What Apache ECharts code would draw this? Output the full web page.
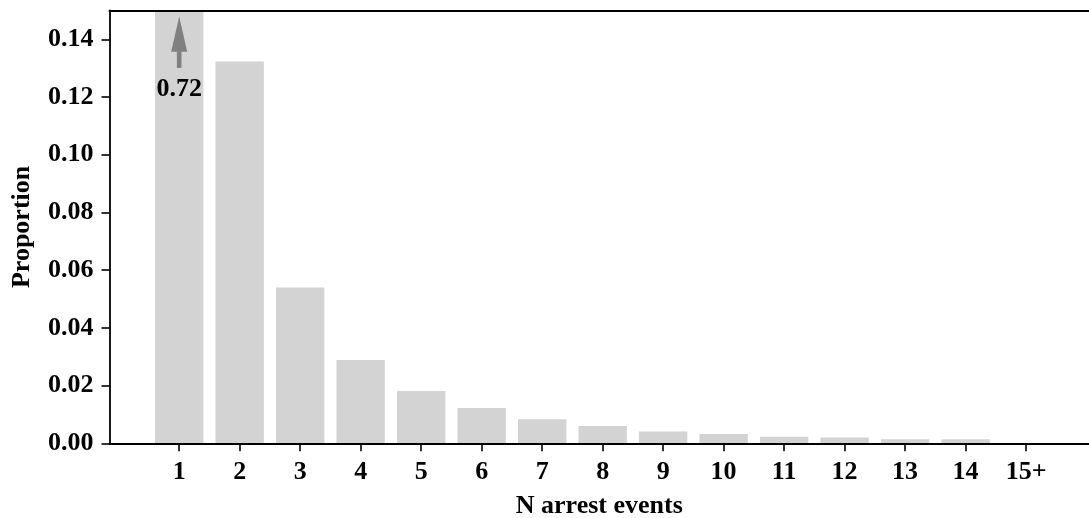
<!DOCTYPE html>
<html><head><meta charset="utf-8">
<script src="https://cdn.jsdelivr.net/npm/echarts@6/dist/echarts.min.js"></script>
<style>html,body{margin:0;padding:0;background:#fff}#c{width:1089px;height:518px}</style>
</head><body><div id="c"></div>
<script>
// ---- data ----
const categories = [1, 2, 3, 4, 5, 6, 7, 8, 9, 10, 11, 12, 13, 14, 15];
const xTickLabels = ['1', '2', '3', '4', '5', '6', '7', '8', '9', '10', '11', '12', '13', '14', '15+'];
const proportions = [0.72, 0.1323, 0.0540, 0.0289, 0.0181, 0.0122, 0.0083, 0.0060, 0.0041, 0.0032, 0.0023, 0.0020, 0.0014, 0.0014, 0.0001];
const yTicks = [0, 0.02, 0.04, 0.06, 0.08, 0.10, 0.12, 0.14];
const yTickLabels = ['0.00', '0.02', '0.04', '0.06', '0.08', '0.10', '0.12', '0.14'];
const xTitle = 'N arrest events';
const yTitle = 'Proportion';
// annotation for the clipped first bar (data coordinates)
const arrowX = 1;
const arrowTip = 0.1479, arrowHeadBase = 0.1357, arrowTail = 0.1301;
const arrowLabelY = 0.1228;
const arrowLabel = proportions[0].toFixed(2);

const FONT = "'Liberation Serif', 'Times New Roman', serif";
const chart = echarts.init(document.getElementById('c'), null, {renderer: 'canvas'});
const textStyle = {fontFamily: FONT, fontWeight: 'bold', fontSize: 26, color: '#000'};

const option = {
  animation: false,
  backgroundColor: '#fff',
  grid: {left: 109.5, right: 0, top: 10.5, bottom: 74.7, containLabel: false, outerBoundsMode: 'none'},
  xAxis: [{
    type: 'value', min: -0.152, max: 16.04, z: 5,
    axisLine: {show: true, lineStyle: {color: '#000', width: 1.8}},
    axisTick: {show: true, length: 8, lineStyle: {color: '#000', width: 1.6}, customValues: categories},
    axisLabel: Object.assign({margin: 16, customValues: categories,
      formatter: v => xTickLabels[categories.indexOf(Math.round(v))]}, textStyle),
    splitLine: {show: false},
    name: xTitle, nameLocation: 'middle', nameGap: 50,
    nameTextStyle: textStyle
  }, {
    type: 'value', position: 'top', min: -0.152, max: 16.04, z: 5,
    axisLine: {show: true, onZero: false, lineStyle: {color: '#000', width: 1.8}},
    axisTick: {show: false}, axisLabel: {show: false}, splitLine: {show: false}
  }],
  yAxis: {
    type: 'value', min: 0, max: 0.15, z: 5,
    axisLine: {show: true, onZero: false, lineStyle: {color: '#000', width: 1.8}},
    axisTick: {show: true, length: 8, lineStyle: {color: '#000', width: 1.6}, customValues: yTicks},
    axisLabel: Object.assign({margin: 16, customValues: yTicks,
      formatter: v => { const i = yTicks.findIndex(t => Math.abs(t - v) < 1e-9); return i >= 0 ? yTickLabels[i] : ''; }}, textStyle),
    splitLine: {show: false},
    name: yTitle, nameLocation: 'middle', nameGap: 74, nameRotate: 90,
    nameTextStyle: textStyle
  },
  series: [{
    type: 'custom', clip: true, z: 1,
    data: categories.map((c, i) => [c, proportions[i]]),
    renderItem: (params, api) => {
      const x = api.value(0), y = api.value(1);
      const p0 = api.coord([x - 0.4, 0]);
      const p1 = api.coord([x + 0.4, y]);
      return {type: 'rect', shape: {x: p0[0], y: p1[1], width: p1[0] - p0[0], height: p0[1] - p1[1]},
        style: {fill: '#d3d3d3'}};
    }
  }, {
    type: 'custom', clip: false, z: 3,
    data: [[arrowX, arrowTip]],
    renderItem: (params, api) => {
      const tip = api.coord([arrowX, arrowTip]);
      const base = api.coord([arrowX, arrowHeadBase]);
      const tail = api.coord([arrowX, arrowTail]);
      const lab = api.coord([arrowX, arrowLabelY]);
      const hw = 8, sw = 2.3;
      return {type: 'group', children: [
        {type: 'polygon', shape: {points: [[tip[0], tip[1]], [base[0] - hw, base[1]], [base[0] + hw, base[1]]]},
          style: {fill: '#808080'}},
        {type: 'rect', shape: {x: base[0] - sw, y: base[1] - 0.5, width: sw * 2, height: tail[1] - base[1] + 0.5},
          style: {fill: '#808080'}},
        {type: 'text', x: lab[0], y: lab[1],
          style: {text: arrowLabel, fontFamily: FONT, fontWeight: 'bold', fontSize: 26, fill: '#000',
            align: 'center', verticalAlign: 'middle'}}
      ]};
    }
  }]
};
chart.setOption(option);
</script>
</body></html>
